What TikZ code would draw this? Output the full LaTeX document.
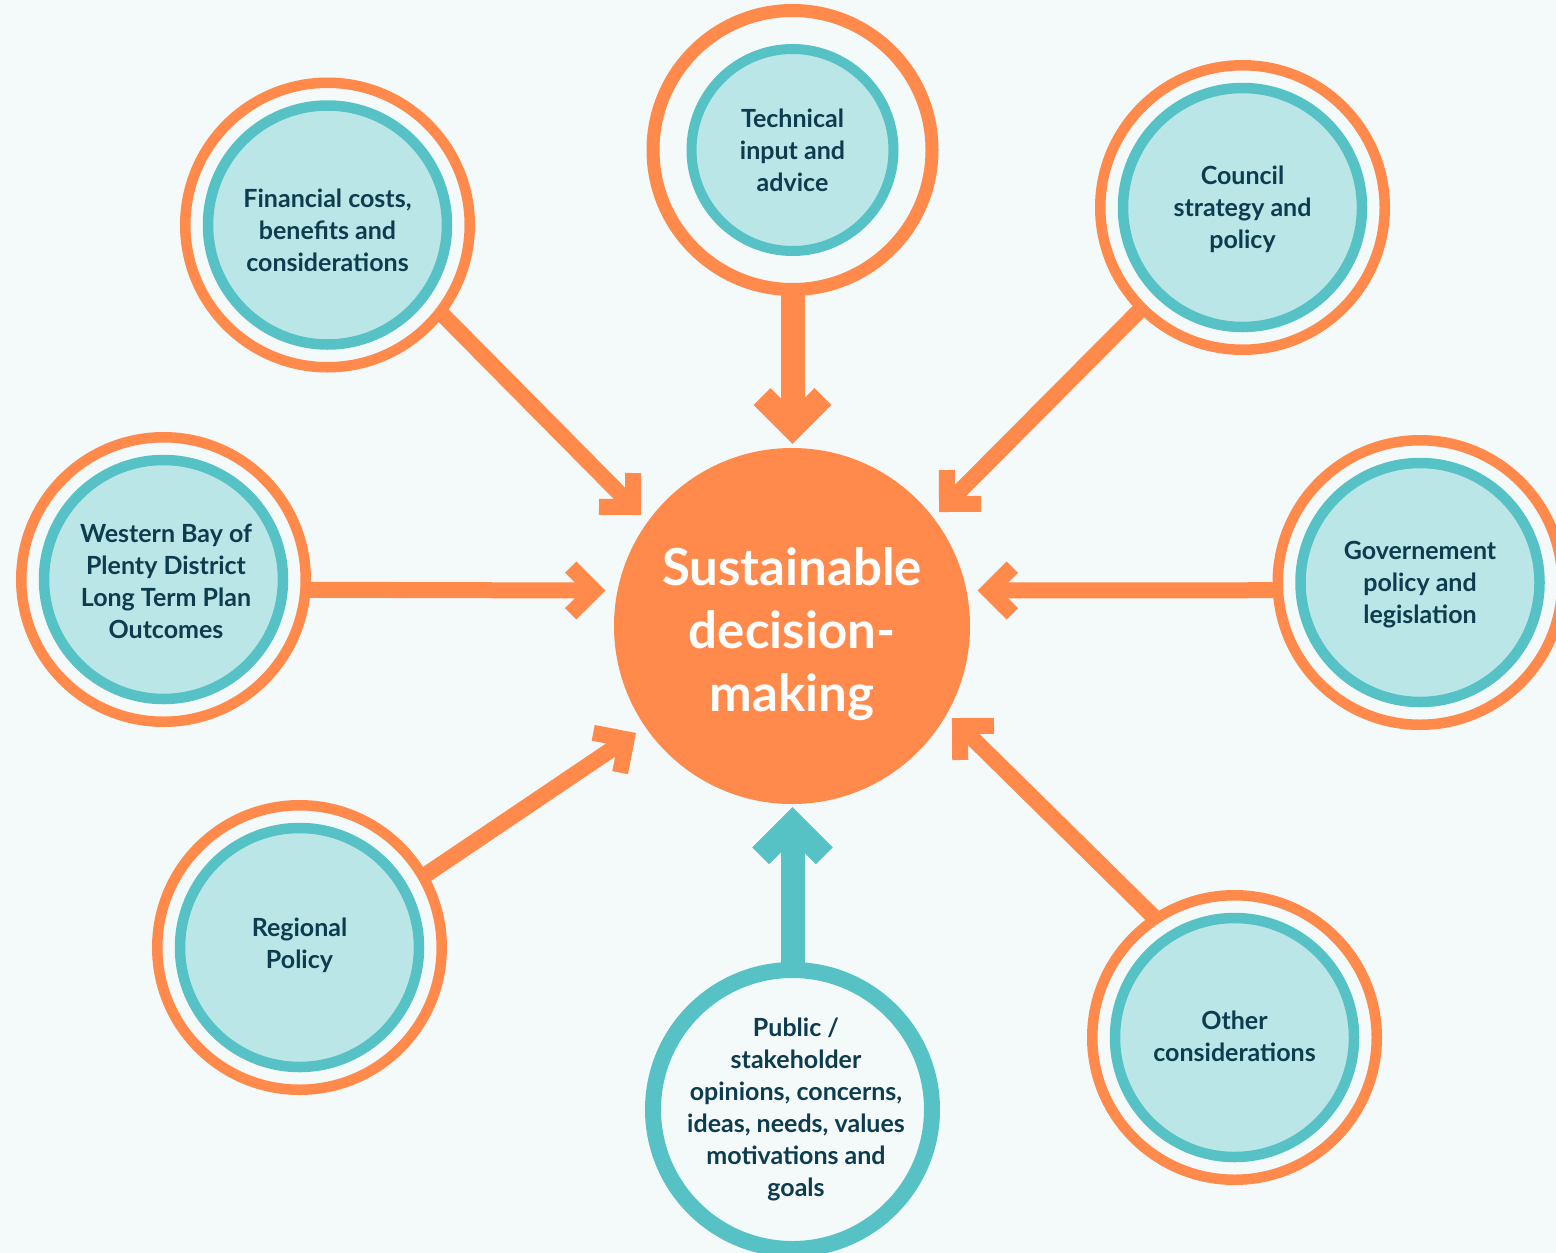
\documentclass[tikz,border=0pt]{standalone}
\usepackage{fontspec}
\setmainfont{Lato}
\usetikzlibrary{calc}
\definecolor{bgc}{HTML}{F4F9F9}
\definecolor{org}{HTML}{FF8A4B}
\definecolor{tea}{HTML}{57C2C5}
\definecolor{lte}{HTML}{BAE6E7}
\definecolor{txt}{HTML}{0C3C4E}
\pgfdeclarelayer{back}
\pgfdeclarelayer{arrows}
\pgfsetlayers{back,arrows,main}
\newcommand\bigarrow[5]{%
  \draw[#1, line width=#2] (#4) -- (#5);
  \draw[#1, line width=#2, line join=miter] ($(#5)!#3!45:(#4)$) -- (#5) -- ($(#5)!#3!-45:(#4)$);
}
\tikzset{
  outerring/.style={circle, draw=org, line width=10.5pt, fill=bgc, minimum size=284.5pt, inner sep=0pt},
  innerring/.style={circle, draw=tea, line width=10.5pt, fill=lte, minimum size=239pt, inner sep=0pt},
  lbl/.style={text=txt, align=center, font=\bfseries\fontsize{25}{32}\selectfont, inner sep=0pt},
}
\begin{document}
\begin{tikzpicture}[x=1pt, y=-1pt]
\useasboundingbox (0,0) rectangle (1556,1253);
\clip (0,0) rectangle (1556,1253);
\begin{pgfonlayer}{back}
\fill[bgc] (0,0) rectangle (1556,1253);
\end{pgfonlayer}

% centre
\node[circle, fill=org, minimum size=356pt, inner sep=0pt] (ctr) at (792,626) {};
\node[text=white, align=center, font=\bfseries\fontsize{51}{63}\selectfont] (ctrtxt) at (792,634) {Sustainable\\decision-\\making};

% financial
\node[outerring] (finO) at (327.5,225) {};
\node[innerring] (finI) at (finO.center) {};
\node[lbl] (finT) at (327.5,230) {Financial costs,\\benefits and\\considerations};
% technical
\node[outerring, line width=13pt, minimum size=279pt] (tecO) at (792.5,150) {};
\node[innerring, line width=10pt, minimum size=202pt] (tecI) at (tecO.center) {};
\node[lbl] (tecT) at (792.5,150) {Technical\\input and\\advice};
% council
\node[outerring] (couO) at (1242.5,207.5) {};
\node[innerring] (couI) at (couO.center) {};
\node[lbl] (couT) at (1242.5,209) {Council\\strategy and\\policy};
% western bay
\node[outerring] (wbO) at (163.5,579.5) {};
\node[innerring] (wbI) at (wbO.center) {};
\node[lbl] (wbT) at (166,581) {Western Bay of\\Plenty District\\Long Term Plan\\Outcomes};
% government
\node[outerring] (govO) at (1420,582.5) {};
\node[innerring] (govI) at (govO.center) {};
\node[lbl] (govT) at (1420,585) {Governement\\policy and\\legislation};
% regional
\node[outerring] (regO) at (299.5,947.5) {};
\node[innerring] (regI) at (regO.center) {};
\node[lbl] (regT) at (299.5,945) {Regional\\Policy};
% other
\node[outerring] (othO) at (1234.5,1037.5) {};
\node[innerring] (othI) at (othO.center) {};
\node[lbl] (othT) at (1234.5,1036) {Other\\considerations};
% public
\node[circle, draw=tea, line width=16pt, fill=bgc, minimum size=279pt, inner sep=0pt] (pubO) at (792.5,1109.5) {};
\node[lbl] (pubT) at (796,1109) {Public /\\stakeholder\\opinions, concerns,\\ideas, needs, values\\motivations and\\goals};

% arrow vertices
\coordinate (vTec) at (792.5,427);
\coordinate (vPub) at (792.5,824);
\coordinate (vWb) at (594,590.5);
\coordinate (vGov) at (989,590.5);
\coordinate (vFin) at (633,507);
\coordinate (vCou) at (947,504);
\coordinate (vReg) at (626.6,739.3);
\coordinate (vOth) at (960,726);
% arrow starts (just inside the rings)
\coordinate (sTec) at ($(tecO.south)!-8pt!(vTec)$);
\coordinate (sPub) at ($(pubO.north)!-8pt!(vPub)$);
\coordinate (sWb) at ($(wbO.-4.25)!-8pt!(vWb)$);
\coordinate (sGov) at ($(govO.183.1)!-8pt!(vGov)$);
\coordinate (sFin) at ($(finO.-38.8)!-8pt!(vFin)$);
\coordinate (sCou) at ($(couO.225.8)!-8pt!(vCou)$);
\coordinate (sReg) at ($(regO.30.4)!-8pt!(vReg)$);
\coordinate (sOth) at ($(othO.124.8)!-8pt!(vOth)$);

\begin{pgfonlayer}{arrows}
\bigarrow{org}{24pt}{43pt}{sTec}{vTec}
\bigarrow{tea}{24pt}{45pt}{sPub}{vPub}
\bigarrow{org}{16pt}{33pt}{sWb}{vWb}
\bigarrow{org}{16pt}{33pt}{sGov}{vGov}
\bigarrow{org}{16pt}{34pt}{sFin}{vFin}
\bigarrow{org}{16pt}{34pt}{sCou}{vCou}
\bigarrow{org}{16pt}{34pt}{sReg}{vReg}
\bigarrow{org}{16pt}{34pt}{sOth}{vOth}
\end{pgfonlayer}
\end{tikzpicture}
\end{document}
